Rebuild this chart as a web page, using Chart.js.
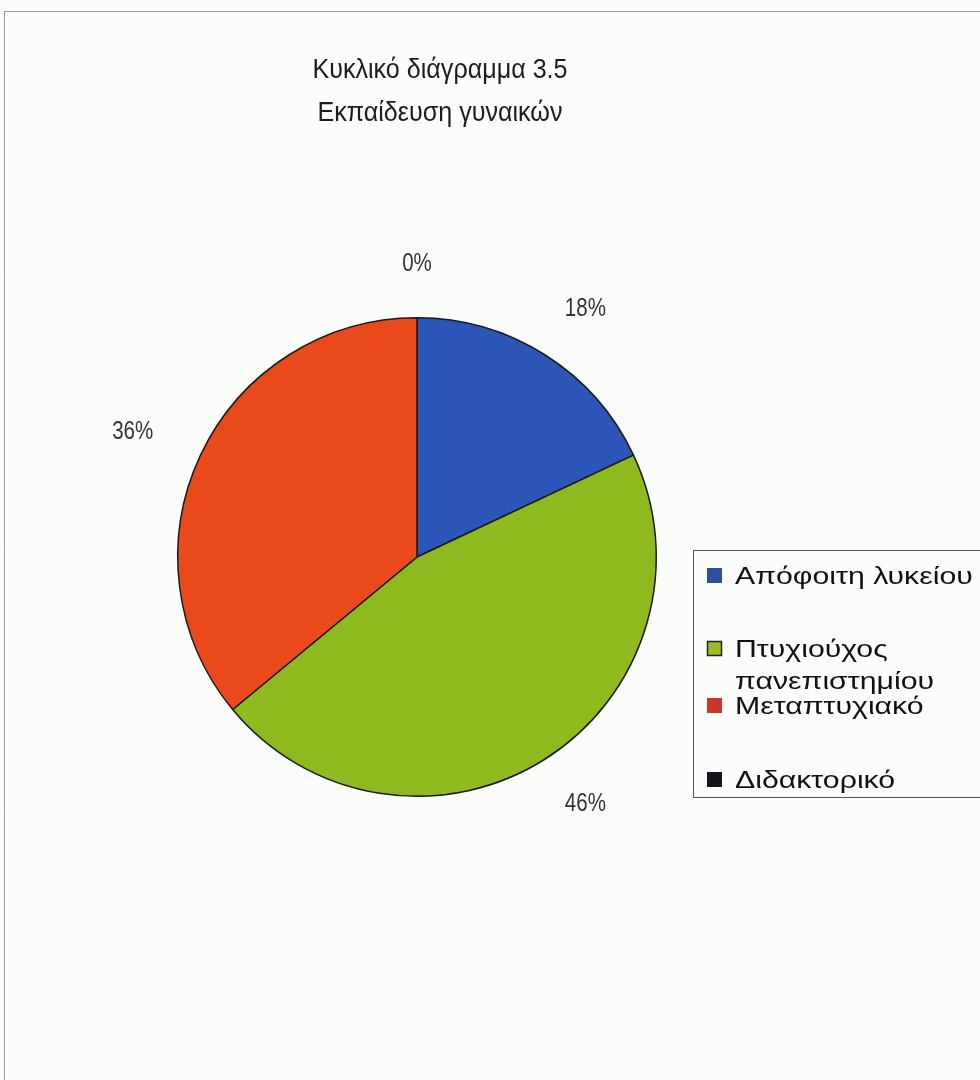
<!DOCTYPE html>
<html>
<head>
<meta charset="utf-8">
<title>Κυκλικό διάγραμμα 3.5</title>
<script src="https://cdn.jsdelivr.net/npm/chart.js@4.4.1/dist/chart.umd.min.js"></script>
<style>
  html, body { margin: 0; padding: 0; background: #fbfdfb; }
  #wrap { width: 980px; height: 1080px; position: relative; }
</style>
</head>
<body>
<div id="wrap"><canvas id="pieChart"></canvas></div>
<script>
// δεδομένα του διαγράμματος
const titleLines = ['Κυκλικό διάγραμμα 3.5', 'Εκπαίδευση γυναικών'];
const categories = ['Απόφοιτη λυκείου', 'Πτυχιούχος πανεπιστημίου', 'Μεταπτυχιακό', 'Διδακτορικό'];
const legendLines = [['Απόφοιτη λυκείου'], ['Πτυχιούχος', 'πανεπιστημίου'], ['Μεταπτυχιακό'], ['Διδακτορικό']];
const shares = [18, 46, 36, 0];

const sliceColors = ['#2c55b8', '#8fba1f', '#ea4a1b', '#111111'];
const keyColors = ['#2e4f9e', '#9cba2a', '#c8362e', '#14141c'];

const FONT = '"Liberation Sans", Arial, sans-serif';

// κείμενο με οριζόντια κλίμακα (η γραμματοσειρά του πρωτοτύπου είναι πιο στενή/φαρδιά)
function drawText(c, text, x, y, sx, align) {
    c.save();
    c.translate(x, y);
    c.scale(sx, 1);
    c.textAlign = align;
    c.fillText(text, 0, 0);
    c.restore();
}

// φόντο και πλαίσιο
const backdrop = {
    id: 'backdrop',
    beforeDraw(chart) {
        const c = chart.ctx;
        c.save();
        c.fillStyle = '#fbfdfb';
        c.fillRect(0, 0, chart.width, chart.height);
        c.strokeStyle = '#9a9a9a';
        c.lineWidth = 1;
        c.beginPath();
        c.moveTo(4.5, chart.height);
        c.lineTo(4.5, 11.5);
        c.lineTo(chart.width, 11.5);
        c.stroke();
        c.restore();
    }
};

// τίτλος, ποσοστά και υπόμνημα
const decorations = {
    id: 'decorations',
    afterDraw(chart) {
        const c = chart.ctx;
        c.save();

        // τίτλος
        c.fillStyle = '#1c1c1c';
        c.font = '27px ' + FONT;
        c.textBaseline = 'alphabetic';
        titleLines.forEach((t, i) => drawText(c, t, 440, 78 + i * 43, 0.93, 'center'));

        // ποσοστά έξω από την πίτα
        const meta = chart.getDatasetMeta(0);
        c.font = '25px ' + FONT;
        c.fillStyle = '#333';
        c.textBaseline = 'middle';
        meta.data.forEach((arc, i) => {
            const mid = (arc.startAngle + arc.endAngle) / 2;
            const x = arc.x + Math.cos(mid) * (arc.outerRadius + 75);
            const y = arc.y + Math.sin(mid) * (arc.outerRadius + 54);
            drawText(c, shares[i] + '%', x, y, 0.82, 'center');
        });

        // υπόμνημα
        c.strokeStyle = '#555';
        c.lineWidth = 1;
        c.strokeRect(693.5, 550.5, 300, 247);
        const baselines = [584, 657, 714, 788];
        c.font = '24px ' + FONT;
        c.textBaseline = 'alphabetic';
        legendLines.forEach((lines, i) => {
            const y = baselines[i];
            c.fillStyle = keyColors[i];
            c.fillRect(707, y - 16, 15, 15);
            if (i === 1) {
                c.strokeStyle = '#222';
                c.lineWidth = 1.5;
                c.strokeRect(707.5, y - 15.5, 14, 14);
            }
            c.fillStyle = '#111';
            lines.forEach((ln, k) => drawText(c, ln, 735, y + k * 32, 1.26, 'left'));
        });

        c.restore();
    }
};

const ctxPie = document.getElementById('pieChart').getContext('2d');
new Chart(ctxPie, {
    type: 'pie',
    data: {
        labels: categories,
        datasets: [{
            data: shares,
            backgroundColor: sliceColors,
            borderColor: '#1a1a1a',
            borderWidth: 1.5
        }]
    },
    options: {
        responsive: true,
        maintainAspectRatio: false,
        animation: false,
        layout: {
            padding: {left: 177, right: 323, top: 317, bottom: 283}
        },
        plugins: {
            legend: {display: false},
            title: {display: false},
            tooltip: {enabled: false}
        }
    },
    plugins: [backdrop, decorations]
});
</script>
</body>
</html>
